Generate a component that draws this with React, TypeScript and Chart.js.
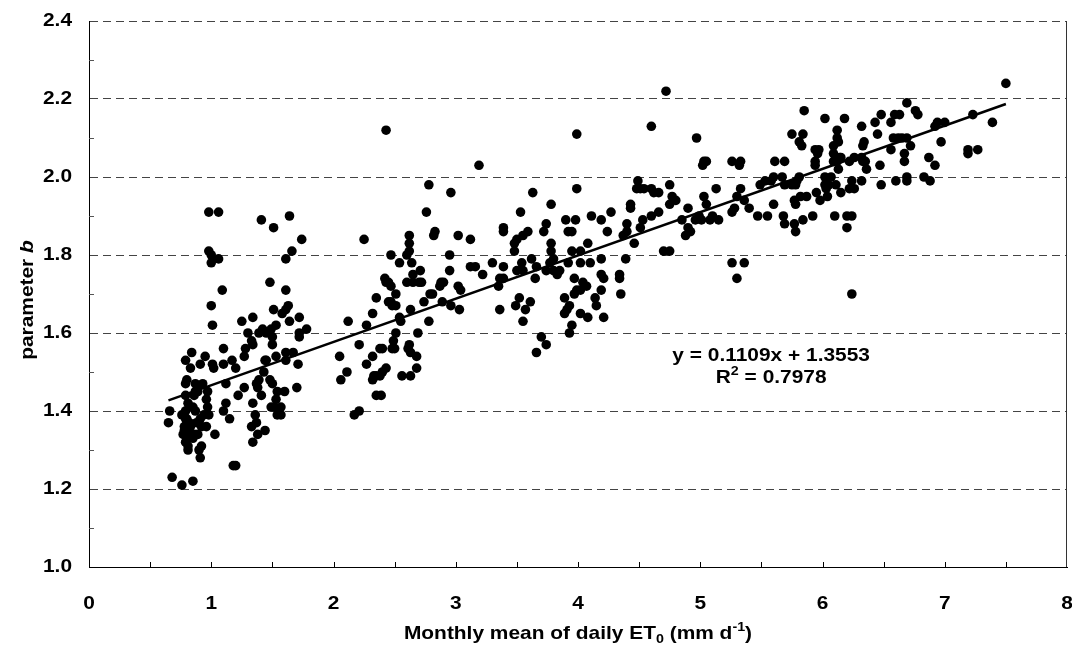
import React, { useEffect, useRef } from "react";
import { Chart, registerables } from "chart.js";
Chart.register(...registerables);

// ---- data (ET0 [mm/d], parameter b) ----
const pointsBelow2: [number, number][] = [
  [0.98,1.91],[1.06,1.91],[1.41,1.89],[1.64,1.90],[1.51,1.87],[1.74,1.84],[1.66,1.81],[1.61,1.79],
  [0.98,1.81],[1.00,1.80],[1.06,1.79],[1.00,1.78],[1.48,1.73],[1.61,1.71],[1.09,1.71],[1.00,1.67],
  [1.63,1.67],[1.61,1.66],[1.58,1.65],[1.51,1.66],[1.01,1.62],[1.25,1.63],[1.34,1.64],[1.64,1.63],
  [1.72,1.64],[2.12,1.63],[1.30,1.60],[1.39,1.60],[1.42,1.61],[1.45,1.60],[1.49,1.61],[1.53,1.62],
  [1.50,1.59],[1.72,1.60],[1.78,1.61],[1.72,1.59],[1.33,1.58],[1.34,1.57],[1.28,1.56],[1.27,1.54],
  [1.10,1.56],[1.50,1.57],[0.84,1.55],[0.95,1.54],[0.79,1.53],[0.91,1.52],[1.01,1.52],[1.10,1.52],
  [1.17,1.53],[1.20,1.51],[1.02,1.51],[1.44,1.53],[1.45,1.53],[1.53,1.54],[1.61,1.55],[1.67,1.55],
  [1.61,1.53],[1.71,1.52],[0.83,1.51],[0.80,1.48],[0.79,1.47],[0.87,1.47],[0.89,1.46],[0.87,1.45],
  [0.97,1.45],[2.05,1.54],[2.11,1.50],[2.06,1.48],[1.43,1.50],[1.39,1.48],[1.37,1.47],[1.48,1.48],
  [1.50,1.47],[1.38,1.46],[1.41,1.44],[1.27,1.46],[1.22,1.44],[1.34,1.42],[1.12,1.47],[1.12,1.42],
  [1.54,1.45],[1.60,1.45],[1.70,1.46],[1.53,1.43],[1.52,1.41],[1.49,1.41],[1.57,1.41],[1.54,1.39],
  [1.57,1.39],[0.66,1.40],[0.65,1.37],[0.81,1.42],[0.79,1.40],[0.85,1.41],[0.87,1.40],[0.97,1.41],
  [0.94,1.39],[0.98,1.39],[0.91,1.38],[0.96,1.36],[0.92,1.36],[0.79,1.38],[0.82,1.37],[0.78,1.35],
  [0.81,1.34],[0.86,1.34],[0.89,1.34],[0.79,1.32],[1.03,1.34],[1.10,1.40],[1.15,1.38],[1.36,1.39],
  [1.37,1.37],[1.33,1.36],[1.44,1.35],[1.38,1.34],[1.34,1.32],[0.92,1.31],[0.90,1.30],[0.81,1.30],
  [0.91,1.28],[1.18,1.26],[1.20,1.26],[0.68,1.23],[0.76,1.21],[0.85,1.22],
  [0.78,1.36],[0.80,1.38],[0.77,1.34],[0.83,1.36],[0.85,1.33],[0.79,1.44],[0.82,1.41],[0.86,1.44],
  [0.88,1.37],[0.76,1.39],[0.81,1.31],[0.89,1.45],[0.93,1.47],[0.96,1.43],
];

const points2to4: [number, number][] = [
  [2.43,2.12],[3.99,2.11],[3.19,2.03],[2.78,1.98],[2.96,1.96],[3.63,1.96],[2.76,1.91],[3.53,1.91],
  [3.78,1.93],[3.99,1.97],[3.90,1.89],[3.98,1.89],[3.74,1.88],[3.72,1.86],[3.92,1.86],[3.95,1.86],
  [3.39,1.87],[3.39,1.86],[3.59,1.86],[3.55,1.85],[3.50,1.84],[3.48,1.83],[3.48,1.81],
  [2.83,1.86],[2.82,1.85],[3.02,1.85],[3.12,1.84],
  [2.62,1.85],[2.62,1.83],[2.62,1.81],[2.60,1.80],[2.64,1.78],[2.54,1.78],[2.47,1.80],
  [2.25,1.84],[2.95,1.80],[2.95,1.76],
  [3.78,1.83],[3.78,1.81],[3.80,1.79],[3.77,1.78],[3.80,1.76],[3.83,1.75],[3.85,1.76],[3.74,1.76],
  [3.62,1.79],[3.66,1.77],[3.65,1.74],[3.54,1.78],[3.50,1.76],[3.55,1.76],[3.30,1.78],[3.39,1.77],
  [3.12,1.77],[3.16,1.77],[3.22,1.75],[3.36,1.74],[3.39,1.74],[3.35,1.72],
  [4.02,1.81],[3.92,1.78],[3.95,1.81],[4.02,1.78],
  [2.71,1.76],[2.65,1.75],[2.70,1.73],[2.60,1.73],[2.65,1.73],[2.72,1.73],
  [2.42,1.74],[2.45,1.73],[2.47,1.72],[2.43,1.73],
  [2.51,1.70],[2.45,1.68],[2.48,1.67],[2.51,1.67],[2.47,1.68],
  [2.88,1.73],[2.87,1.72],[2.90,1.73],[2.81,1.70],[2.79,1.70],
  [3.02,1.72],[3.04,1.71],[2.96,1.67],[3.03,1.66],[2.89,1.68],[2.74,1.68],[2.63,1.66],[2.35,1.69],
  [2.32,1.65],[2.27,1.62],[2.54,1.64],[2.55,1.63],[2.78,1.63],[3.36,1.66],
  [3.49,1.67],[3.52,1.69],[3.57,1.66],[3.61,1.68],[3.55,1.63],
  [3.89,1.69],[3.91,1.66],[3.93,1.67],[3.89,1.65],[4.02,1.65],[3.97,1.70],[3.99,1.71],[3.97,1.74],
  [4.02,1.71],[4.04,1.73],
  [3.95,1.62],[3.93,1.60],[3.70,1.59],[3.74,1.57],[3.66,1.55],
  [2.69,1.60],[2.51,1.60],[2.49,1.58],[2.50,1.56],[2.48,1.56],[2.40,1.56],[2.38,1.56],[2.21,1.57],
  [2.62,1.57],[2.61,1.56],[2.63,1.55],[2.68,1.54],[2.68,1.51],[2.63,1.49],[2.56,1.49],
  [2.32,1.54],[2.27,1.52],
  [2.43,1.51],[2.40,1.50],[2.35,1.49],[2.32,1.48],[2.38,1.49],[2.33,1.49],
  [2.35,1.44],[2.39,1.44],[2.17,1.39],[2.21,1.40],
];

const points4to6: [number, number][] = [
  [4.60,2.13],[4.97,2.10],[5.03,2.04],[5.05,2.04],[5.02,2.03],[5.26,2.04],[5.33,2.04],[5.32,2.03],
  [5.61,2.04],[5.69,2.04],[5.75,2.11],[5.84,2.11],[5.81,2.09],[5.83,2.08],[5.85,2.17],
  [4.49,1.99],[4.48,1.97],[4.51,1.97],[4.54,1.97],[4.60,1.97],[4.66,1.96],[4.62,1.96],[4.75,1.98],
  [4.77,1.95],[4.80,1.94],[4.75,1.93],[4.43,1.93],[4.43,1.92],
  [4.27,1.91],[4.11,1.90],[4.19,1.89],[4.24,1.86],
  [4.40,1.88],[4.37,1.85],[4.40,1.86],[4.46,1.83],[4.51,1.87],[4.53,1.89],[4.60,1.90],[4.66,1.91],
  [4.70,1.81],[4.75,1.81],
  [4.90,1.92],[4.85,1.89],[4.90,1.87],[4.88,1.85],[4.92,1.86],
  [4.96,1.89],[4.99,1.90],[5.01,1.89],[5.03,1.95],[5.05,1.93],[5.10,1.90],[5.15,1.89],[5.08,1.89],
  [5.13,1.97],[5.26,1.91],[5.28,1.92],[5.30,1.95],[5.33,1.97],[5.36,1.94],[5.40,1.92],
  [5.47,1.90],[5.55,1.90],[5.60,1.93],
  [5.49,1.98],[5.53,1.99],[5.58,1.99],[5.60,2.00],[5.67,2.00],[5.69,1.98],[5.75,1.98],[5.79,1.99],
  [5.81,2.00],[5.78,1.98],
  [5.68,1.90],[5.69,1.88],[5.77,1.88],[5.78,1.86],[5.84,1.89],
  [5.77,1.94],[5.78,1.93],[5.82,1.95],[5.87,1.95],
  [5.26,1.78],[5.36,1.78],[5.30,1.74],
  [4.08,1.83],[4.10,1.78],[4.19,1.79],[4.19,1.75],[4.21,1.74],[4.39,1.79],[4.34,1.75],[4.34,1.74],
  [4.35,1.70],[4.07,1.72],[4.19,1.71],[4.14,1.69],[4.15,1.67],[4.08,1.64],[4.21,1.64],
  [4.72,2.22],
];

const pointsAbove6: [number, number][] = [
  [7.50,2.24],[6.02,2.15],[6.18,2.15],
  [6.12,2.12],[6.12,2.10],[6.13,2.09],[6.09,2.08],[6.09,2.06],[6.12,2.04],[6.09,2.04],[6.14,2.05],
  [6.15,2.05],[6.13,2.02],
  [5.94,2.07],[5.97,2.07],[5.94,2.04],[5.94,2.03],[5.96,2.06],
  [6.02,2.00],[6.07,2.00],[6.02,1.98],[6.05,1.98],[6.03,1.97],[6.11,1.98],
  [5.95,1.96],[5.98,1.94],[6.04,1.95],[6.15,1.96],[5.92,1.90],
  [6.10,1.90],[6.20,1.90],[6.24,1.90],[6.20,1.87],[6.24,1.70],
  [6.22,1.97],[6.24,1.99],[6.26,1.97],[6.32,1.99],[6.22,2.04],[6.26,2.05],[6.32,2.05],[6.35,2.04],
  [6.36,2.02],[6.33,2.04],
  [6.32,2.13],[6.34,2.09],[6.33,2.08],
  [6.43,2.14],[6.48,2.16],[6.45,2.11],[6.47,2.03],[6.48,1.98],
  [6.56,2.14],[6.59,2.16],[6.63,2.16],[6.58,2.10],[6.62,2.10],[6.65,2.10],[6.69,2.10],[6.56,2.07],
  [6.69,2.19],[6.76,2.17],[6.78,2.16],[6.72,2.08],[6.67,2.06],[6.67,2.04],
  [6.60,1.99],[6.69,2.00],[6.69,1.99],
  [6.87,2.05],[6.92,2.03],[6.83,2.00],[6.88,1.99],
  [6.92,2.13],[6.94,2.14],[7.00,2.14],[6.97,2.09],
  [7.23,2.16],[7.19,2.06],[7.19,2.07],[7.27,2.07],[7.39,2.14],
];

// regression
const SLOPE = 0.1109;
const INTERCEPT = 1.3553;
const TREND_X_RANGE = [0.65, 7.5];
const EQUATION_TEXT = "y = 0.1109x + 1.3553";
const R2_TEXT = "0.7978";

// axes
const X_MIN = 0, X_MAX = 8, X_STEP = 1;
const Y_MIN = 1.0, Y_MAX = 2.4, Y_STEP = 0.2;
const X_TICK_MARKS = [0.5, 1, 1.5, 2, 2.5, 3, 3.5, 4, 4.5, 5, 5.5, 6, 6.5, 7, 7.5];
const Y_MINOR_TICKS = [1.1, 1.3, 1.5, 1.7, 1.9, 2.1, 2.3];

const FONT = '"Liberation Sans", Arial, Helvetica, sans-serif';
const FS = 19;
const SX = 1.1; // horizontal stretch of the reference's text

type Part = { t: string; sub?: boolean; sup?: boolean; italic?: boolean };

function drawRich(
  ctx: CanvasRenderingContext2D,
  parts: Part[],
  ax: number,
  ay: number,
  size: number,
  align: "center" | "right" = "center"
) {
  const fontFor = (p: Part) =>
    `${p.italic ? "italic " : ""}bold ${p.sub || p.sup ? Math.round(size * 0.66) : size}px ${FONT}`;
  let total = 0;
  const widths = parts.map((p) => {
    ctx.font = fontFor(p);
    const w = ctx.measureText(p.t).width;
    total += w;
    return w;
  });
  ctx.save();
  ctx.translate(ax, ay);
  ctx.scale(SX, 1);
  let x = align === "center" ? -total / 2 : -total;
  ctx.textAlign = "left";
  ctx.textBaseline = "middle";
  parts.forEach((p, i) => {
    ctx.font = fontFor(p);
    const dy = p.sub ? size * 0.3 : p.sup ? -size * 0.35 : 0;
    ctx.fillText(p.t, x, dy);
    x += widths[i];
  });
  ctx.restore();
}

const decorPlugin = {
  id: "decor",
  afterDraw(chart: any) {
    const { ctx, chartArea: a, scales } = chart;
    const xs = scales.x, ys = scales.y;
    ctx.save();
    ctx.lineWidth = 1;
    // right frame
    ctx.strokeStyle = "#333";
    ctx.beginPath();
    ctx.moveTo(Math.round(a.right) - 0.5, a.top);
    ctx.lineTo(Math.round(a.right) - 0.5, a.bottom);
    ctx.stroke();
    // inner minor ticks on y
    ctx.strokeStyle = "#555";
    Y_MINOR_TICKS.forEach((v) => {
      const py = Math.round(ys.getPixelForValue(v)) + 0.5;
      ctx.beginPath();
      ctx.moveTo(a.left, py);
      ctx.lineTo(a.left + 5, py);
      ctx.stroke();
    });
    // inner tick marks on x
    ctx.strokeStyle = "#000";
    X_TICK_MARKS.forEach((v) => {
      const px = Math.round(xs.getPixelForValue(v)) + 0.5;
      ctx.beginPath();
      ctx.moveTo(px, a.bottom);
      ctx.lineTo(px, a.bottom - 5);
      ctx.stroke();
    });
    ctx.fillStyle = "#000";
    // tick labels (from the library's ticks)
    xs.ticks.forEach((t: any) => {
      drawRich(ctx, [{ t: String(t.value) }], xs.getPixelForValue(t.value), 604, FS);
    });
    ys.ticks.forEach((t: any) => {
      drawRich(ctx, [{ t: Number(t.value).toFixed(1) }], a.left - 17, ys.getPixelForValue(t.value), FS, "right");
    });
    // x title
    drawRich(
      ctx,
      [{ t: "Monthly mean of daily ET" }, { t: "0", sub: true }, { t: " (mm d" }, { t: "-1", sup: true }, { t: ")" }],
      (a.left + a.right) / 2,
      634,
      FS
    );
    // y title
    ctx.save();
    ctx.translate(28, 300);
    ctx.rotate(-Math.PI / 2);
    drawRich(ctx, [{ t: "parameter " }, { t: "b", italic: true }], 0, 0, FS);
    ctx.restore();
    // equation
    const ex = xs.getPixelForValue(5.58);
    drawRich(ctx, [{ t: EQUATION_TEXT }], ex, ys.getPixelForValue(1.541), FS);
    drawRich(ctx, [{ t: "R" }, { t: "2", sup: true }, { t: " = " + R2_TEXT }], ex, ys.getPixelForValue(1.485), FS);
    ctx.restore();
  },
};

const toXY = (arr: [number, number][]) => arr.map(([x, y]) => ({ x, y }));

export default function App() {
  const ref = useRef<HTMLCanvasElement | null>(null);
  useEffect(() => {
    if (!ref.current) return;
    const allPoints = [...pointsBelow2, ...points2to4, ...points4to6, ...pointsAbove6];
    const trend = TREND_X_RANGE.map((x) => ({ x, y: SLOPE * x + INTERCEPT }));
    const chart = new Chart(ref.current, {
      type: "scatter",
      data: {
        datasets: [
          {
            label: "parameter b",
            data: toXY(allPoints),
            backgroundColor: "#000",
            borderWidth: 0,
            pointRadius: 4.8,
            pointHoverRadius: 4.8,
          },
          {
            label: "trend",
            data: trend,
            showLine: true,
            borderColor: "#000",
            borderWidth: 2.5,
            pointRadius: 0,
            pointHoverRadius: 0,
          } as any,
        ],
      },
      options: {
        responsive: false,
        animation: false,
        devicePixelRatio: 1,
        events: [],
        layout: { padding: { top: 21, right: 5, left: 0, bottom: 0 } },
        plugins: { legend: { display: false }, tooltip: { enabled: false } },
        scales: {
          x: {
            type: "linear",
            min: X_MIN,
            max: X_MAX,
            afterFit: (s: any) => {
              s.height = 86;
              s.paddingLeft = 0;
              s.paddingRight = 0;
            },
            grid: { display: false, drawTicks: false },
            border: { display: true, color: "#000", width: 1 },
            ticks: { stepSize: X_STEP, display: false },
          },
          y: {
            type: "linear",
            min: Y_MIN,
            max: Y_MAX,
            afterFit: (s: any) => {
              s.width = 89;
              s.paddingTop = 0;
              s.paddingBottom = 0;
            },
            grid: {
              drawTicks: false,
              color: (c: any) => (c.tick && c.tick.value <= Y_MIN + 1e-6 ? "rgba(0,0,0,0)" : "#444"),
              lineWidth: 1,
            },
            border: { display: true, color: "#000", width: 1, dash: [8, 5] },
            ticks: { stepSize: Y_STEP, display: false },
          },
        },
      },
      plugins: [decorPlugin],
    } as any);
    return () => chart.destroy();
  }, []);
  return (
    <div style={{ position: "fixed", left: 0, top: 0, width: 1072, height: 653, background: "#fff" }}>
      <canvas ref={ref} width={1072} height={653} style={{ display: "block" }} />
    </div>
  );
}
